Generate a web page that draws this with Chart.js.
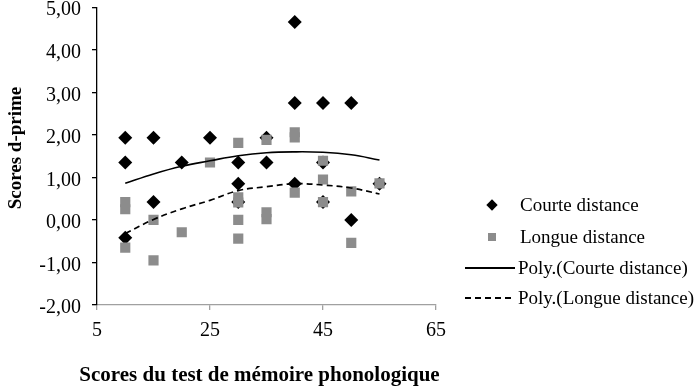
<!DOCTYPE html>
<html>
<head>
<meta charset="utf-8">
<script src="https://cdn.jsdelivr.net/npm/chart.js@4/dist/chart.umd.min.js"></script>
<style>
  html, body { margin: 0; padding: 0; background: #fff; }
  #wrap { position: relative; width: 695px; height: 387px; }
  canvas { position: absolute; left: 0; top: 0; }
  .leg { position: absolute; font-family: "Liberation Serif", "Times New Roman", serif; font-size: 19px; color: #000; white-space: nowrap; line-height: 20px; }
  .mk { position: absolute; }
  .ttl { position: absolute; font-family: "Liberation Serif", "Times New Roman", serif; font-weight: bold; color: #000; white-space: nowrap; }
</style>
</head>
<body>
<div id="wrap">
  <canvas id="c" width="695" height="387"></canvas>
  <div id="legend"></div>
  <div id="xt" class="ttl"></div>
  <div id="yt" class="ttl"></div>
</div>
<script>
// ---- data ----
const courteX = [10, 10, 10, 15, 15, 20, 25, 30, 30, 30, 35, 35, 40, 40, 40, 45, 45, 45, 50, 50, 55];
const courteY = [1.93, 1.35, -0.42, 1.93, 0.42, 1.35, 1.93, 1.35, 0.85, 0.42, 1.93, 1.35, 4.65, 2.75, 0.85, 2.75, 1.35, 0.42, 2.75, 0.00, 0.85];

const longueX = [10, 10, 10, 15, 15, 20, 25, 30, 30, 30, 30, 30, 35, 35, 35, 40, 40, 40, 45, 45, 45, 50, 50, 55];
const longueY = [0.42, 0.25, -0.65, 0.00, -0.95, -0.29, 1.35, 1.81, 0.53, 0.41, 0.00, -0.44, 1.88, 0.18, 0.02, 2.06, 1.94, 0.64, 1.39, 0.95, 0.42, 0.67, -0.54, 0.86];

const trendX = [10, 15, 20, 25, 30, 35, 40, 45, 50, 55];
const courteTrend = [0.86, 1.08, 1.26, 1.39, 1.51, 1.58, 1.60, 1.59, 1.53, 1.41];
const longueTrend = [-0.32, 0.01, 0.26, 0.46, 0.69, 0.78, 0.85, 0.82, 0.75, 0.61];

const xTicks = [5, 25, 45, 65];
const yTicks = [-2, -1, 0, 1, 2, 3, 4, 5];

const seriesNames = ["Courte distance", "Longue distance", "Poly.(Courte distance)", "Poly.(Longue distance)"];
const xTitle = "Scores du test de mémoire phonologique";
const yTitle = "Scores d-prime";

// ---- build ----
const pts = (xs, ys) => xs.map((x, i) => ({ x: x, y: ys[i] }));
const FONT = '"Liberation Serif", "Times New Roman", serif';
const GRAY = '#8c8c8c';

const chart = new Chart(document.getElementById('c'), {
  type: 'scatter',
  data: {
    datasets: [
      { label: seriesNames[0], data: pts(courteX, courteY), pointStyle: 'rectRot', pointRadius: 7,
        backgroundColor: '#000', borderColor: '#000', borderWidth: 0, order: 3 },
      { label: seriesNames[1], data: pts(longueX, longueY), pointStyle: 'rect', pointRadius: 7.2,
        backgroundColor: GRAY, borderColor: GRAY, borderWidth: 0, order: 2 },
      { label: seriesNames[2], data: pts(trendX, courteTrend), showLine: true, pointRadius: 0,
        borderColor: '#000', borderWidth: 1.6, tension: 0.4, fill: false, order: 1 },
      { label: seriesNames[3], data: pts(trendX, longueTrend), showLine: true, pointRadius: 0,
        borderColor: '#000', borderWidth: 1.7, borderDash: [6, 4], tension: 0.4, fill: false, order: 0 }
    ]
  },
  options: {
    responsive: false,
    animation: false,
    events: [],
    layout: { padding: { top: 6, right: 259, left: 0, bottom: 0 } },
    plugins: { legend: { display: false }, tooltip: { enabled: false } },
    scales: {
      x: {
        type: 'linear', min: 5, max: 65,
        afterBuildTicks: s => { s.ticks = xTicks.map(v => ({ value: v })); },
        afterFit: s => { s.height = 82; s.paddingLeft = 0; s.paddingRight = 0; },
        border: { display: true, color: '#a0a0a0', width: 1.3 },
        grid: { display: true, drawOnChartArea: false, drawTicks: true, tickLength: 5, color: '#a0a0a0', lineWidth: 1.3 },
        ticks: { color: '#000', font: { family: FONT, size: 20 }, padding: 9, maxRotation: 0, callback: v => String(v) },
        title: { display: false, text: xTitle }
      },
      y: {
        type: 'linear', min: -2, max: 5,
        afterBuildTicks: s => { s.ticks = yTicks.map(v => ({ value: v })); },
        afterFit: s => { s.width = 97; s.paddingTop = 0; s.paddingBottom = 0; },
        border: { display: true, color: '#000', width: 1.3 },
        grid: { display: true, drawOnChartArea: false, drawTicks: true, tickLength: 5, color: '#000', lineWidth: 1.3 },
        ticks: { color: '#000', font: { family: FONT, size: 20 }, padding: 11, labelOffset: 3,
                 callback: v => Number(v).toFixed(2).replace('.', ',') },
        title: { display: false, text: yTitle }
      }
    }
  }
});

// ---- axis titles (HTML text) ----
const xt = document.getElementById('xt');
xt.textContent = xTitle;
Object.assign(xt.style, { fontSize: '21px', lineHeight: '24px', left: '0px', width: '519px', textAlign: 'center', top: '362px' });
const yt = document.getElementById('yt');
yt.textContent = yTitle;
Object.assign(yt.style, { fontSize: '19px', lineHeight: '22px', width: '200px', textAlign: 'center',
  left: (15 - 100) + 'px', top: (148 - 11) + 'px', transform: 'rotate(-90deg)' });

// ---- legend (HTML) ----
const legend = document.getElementById('legend');
const rows = [
  { y: 205, kind: 'diamond' },
  { y: 237, kind: 'square' },
  { y: 268, kind: 'solid' },
  { y: 298, kind: 'dashed' }
];
rows.forEach((r, i) => {
  const m = document.createElement('div');
  m.className = 'mk';
  if (r.kind === 'diamond') {
    Object.assign(m.style, { left: (492 - 4) + 'px', top: (r.y - 4) + 'px', width: '8px', height: '8px', background: '#000', transform: 'rotate(45deg)' });
  } else if (r.kind === 'square') {
    Object.assign(m.style, { left: (492 - 4) + 'px', top: (r.y - 4) + 'px', width: '8px', height: '8px', background: GRAY });
  } else if (r.kind === 'solid') {
    Object.assign(m.style, { left: '465px', top: (r.y - 1) + 'px', width: '50px', height: '1.5px', background: '#000' });
  } else {
    Object.assign(m.style, { left: '465px', top: (r.y - 1) + 'px', width: '50px', height: '1.5px',
      background: 'repeating-linear-gradient(to right, #000 0px, #000 6px, transparent 6px, transparent 10px)' });
  }
  legend.appendChild(m);
  const t = document.createElement('div');
  t.className = 'leg';
  t.textContent = seriesNames[i];
  t.style.left = (i < 2 ? 520 : 518) + 'px';
  t.style.top = (r.y - 10) + 'px';
  legend.appendChild(t);
});
</script>
</body>
</html>
